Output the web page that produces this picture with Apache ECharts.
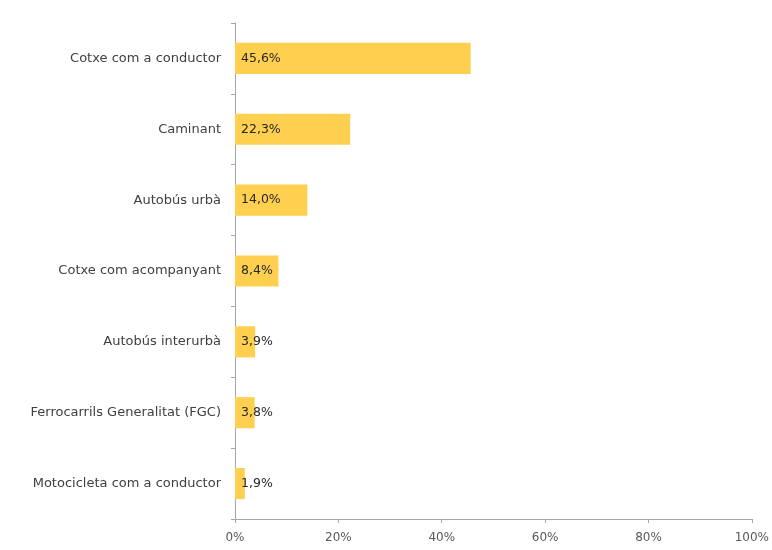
<!DOCTYPE html>
<html><head><meta charset="utf-8">
<script src="https://cdn.jsdelivr.net/npm/echarts@6/dist/echarts.min.js"></script>
<style>html,body{margin:0;padding:0;background:#fff}#c{width:772px;height:550px}</style>
</head><body><div id="c"></div>
<script>
const categories = ["Cotxe com a conductor","Caminant","Autobús urbà","Cotxe com acompanyant","Autobús interurbà","Ferrocarrils Generalitat (FGC)","Motocicleta com a conductor"];
const values = [45.6,22.3,14.0,8.4,3.9,3.8,1.9];
const xTicks = [0,20,40,60,80,100];

const chart = echarts.init(document.getElementById('c'));
chart.setOption({
  animation:false,
  grid:{left:235,right:20,top:23,bottom:31},
  xAxis:{type:'value',min:xTicks[0],max:xTicks[xTicks.length-1],interval:xTicks[1]-xTicks[0],
    axisLine:{show:true,lineStyle:{color:'#a6a6a6'}},
    axisTick:{show:true,length:4,lineStyle:{color:'#a6a6a6'}},
    splitLine:{show:false},
    axisLabel:{formatter:v=>v+'%',color:'#595959',fontSize:12,fontFamily:'DejaVu Sans',margin:13}},
  yAxis:{type:'category',data:categories.slice().reverse(),
    axisLine:{show:true,lineStyle:{color:'#a6a6a6'}},
    axisTick:{show:true,length:4,lineStyle:{color:'#a6a6a6'}},
    axisLabel:{color:'#404040',fontSize:13,fontFamily:'DejaVu Sans',margin:14}},
  series:[{type:'bar',data:values.slice().reverse(),barCategoryGap:'56%',
    itemStyle:{color:'#FFD04F'},
    label:{show:true,position:'insideLeft',distance:6,color:'#262626',fontSize:12.5,fontFamily:'DejaVu Sans',
      formatter:p=>p.value.toFixed(1).replace('.',',')+'%'}}]
});
</script></body></html>
